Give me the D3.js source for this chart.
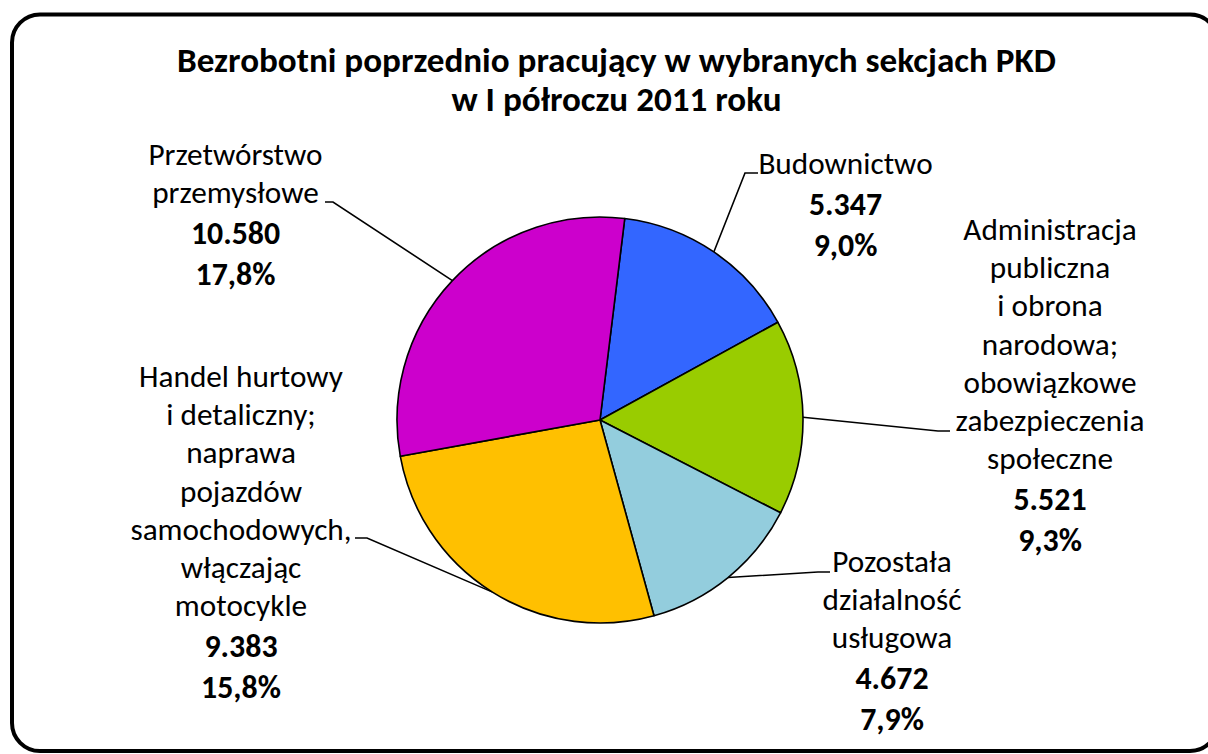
<!DOCTYPE html>
<html>
<head>
<meta charset="utf-8">
<script src="https://cdn.jsdelivr.net/npm/d3@7"></script>
<style>
  html, body { margin: 0; padding: 0; background: #fff; }
  svg { display: block; }
</style>
</head>
<body>
<svg id="chart" width="1208" height="754"></svg>
<script>
// ---------- DATA ----------
const titleLines = ["Bezrobotni poprzednio pracujący w wybranych sekcjach PKD", "w I półroczu 2011 roku"];
const categories = [
  "Budownictwo",
  "Administracja publiczna i obrona narodowa; obowiązkowe zabezpieczenia społeczne",
  "Pozostała działalność usługowa",
  "Handel hurtowy i detaliczny; naprawa pojazdów samochodowych, włączając motocykle",
  "Przetwórstwo przemysłowe"
];
const categoryLines = [
  ["Budownictwo"],
  ["Administracja", "publiczna", "i obrona", "narodowa;", "obowiązkowe", "zabezpieczenia", "społeczne"],
  ["Pozostała", "działalność", "usługowa"],
  ["Handel hurtowy", "i detaliczny;", "naprawa", "pojazdów", "samochodowych,", "włączając", "motocykle"],
  ["Przetwórstwo", "przemysłowe"]
];
const values = [5347, 5521, 4672, 9383, 10580];
const percents = ["9,0%", "9,3%", "7,9%", "15,8%", "17,8%"];
const colors = ["#3366FF", "#99CC00", "#93CDDD", "#FFC000", "#CC00CC"];

// ---------- LAYOUT ----------
const W = 1208, H = 754;
const cx = 600, cy = 420, R = 203;
const startDeg = 7;
const labelLayout = [
  { x: 845.5, y: 174, elbow: [745, 173], end: [758, 173] },
  { x: 1050,  y: 240, elbow: [938, 431], end: [950, 431] },
  { x: 892,   y: 572, elbow: [818, 572], end: [830, 572] },
  { x: 241,   y: 387, elbow: [367, 538], end: [355, 538] },
  { x: 235.5, y: 165, elbow: [333, 202], end: [325, 202] }
];
const regStep = 38.2, boldStep = 41;
const family = "Carlito, Lato, 'Open Sans', sans-serif";

const svg = d3.select("#chart");

// measure helper to match reference text widths
function fitSize(text, weight, targetW) {
  const t = svg.append("text").attr("font-family", family).attr("font-weight", weight)
    .attr("font-size", 100).text(text);
  const w = t.node().getComputedTextLength();
  t.remove();
  return 100 * targetW / w;
}
const titleSize = fitSize(titleLines[0], "bold", 879);
const labelSize = (fitSize("Administracja", "normal", 174) + fitSize("samochodowych,", "normal", 222) + fitSize("Przetwórstwo", "normal", 173)) / 3;
const boldSize = (fitSize("10.580", "bold", 93) + fitSize("5.347", "bold", 70)) / 2;

// border
svg.append("rect")
  .attr("x", 12).attr("y", 14.5)
  .attr("width", 1206).attr("height", 736.5)
  .attr("rx", 28).attr("ry", 28)
  .attr("fill", "#fff").attr("stroke", "#000").attr("stroke-width", 4);

// title
svg.append("g").selectAll("text").data(titleLines).join("text")
  .attr("x", 616.5)
  .attr("y", (d, i) => 72 + i * 39)
  .attr("text-anchor", "middle")
  .attr("font-family", family)
  .attr("font-weight", "bold")
  .attr("font-size", titleSize)
  .attr("fill", "#000")
  .text(d => d);

// pie
const data = categories.map((c, i) => ({ name: c, lines: categoryLines[i], value: values[i], pct: percents[i], color: colors[i], lay: labelLayout[i] }));
const start = startDeg * Math.PI / 180;
const pie = d3.pie().value(d => d.value).sort(null).startAngle(start).endAngle(start + 2 * Math.PI);
const arcs = pie(data);
const arc = d3.arc().innerRadius(0).outerRadius(R);

const g = svg.append("g").attr("transform", `translate(${cx},${cy})`);
g.selectAll("path").data(arcs).join("path")
  .attr("d", arc)
  .attr("fill", d => d.data.color)
  .attr("stroke", "#000")
  .attr("stroke-width", 1.6)
  .attr("stroke-linejoin", "round");

// leader lines
const line = d3.line();
svg.append("g").selectAll("path").data(arcs).join("path")
  .attr("d", d => {
    const a = (d.startAngle + d.endAngle) / 2;
    const p0 = [cx + R * Math.sin(a), cy - R * Math.cos(a)];
    return line([p0, d.data.lay.elbow, d.data.lay.end]);
  })
  .attr("fill", "none")
  .attr("stroke", "#000")
  .attr("stroke-width", 1.6);

// labels
const fmt = d3.formatLocale({ decimal: ",", thousands: ".", grouping: [3], currency: ["", ""] }).format(",d");
const lg = svg.append("g");
data.forEach(d => {
  const rows = d.lines.map(t => ({ t, bold: false }))
    .concat([{ t: fmt(d.value), bold: true }, { t: d.pct, bold: true }]);
  let y = d.lay.y;
  rows.forEach((r, i) => {
    if (i > 0) y += (r.bold ? boldStep : regStep);
    lg.append("text")
      .attr("x", d.lay.x)
      .attr("y", y)
      .attr("text-anchor", "middle")
      .attr("font-family", family)
      .attr("font-weight", r.bold ? "bold" : "normal")
      .attr("font-size", r.bold ? boldSize : labelSize)
      .attr("fill", "#000")
      .text(r.t);
  });
});
</script>
</body>
</html>
